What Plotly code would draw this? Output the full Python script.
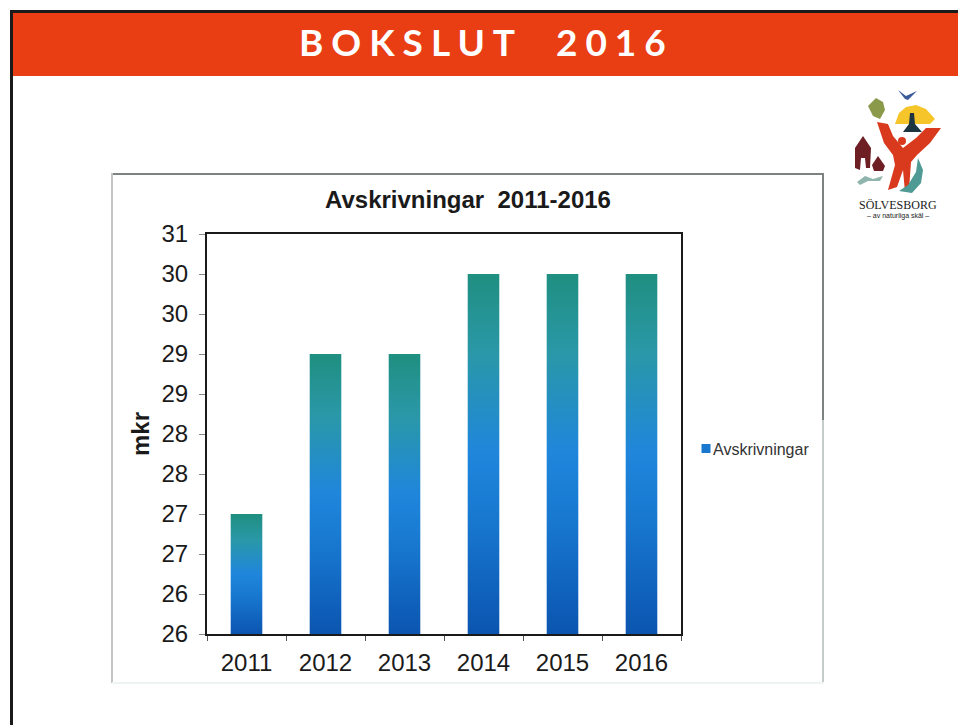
import plotly.graph_objects as go

years = ["2011", "2012", "2013", "2014", "2015", "2016"]
values = [27, 29, 29, 30, 30, 30]
series_name = "Avskrivningar"
axis_floor = 25.5
axis_top = 30.5
y_tickvals = [25.5, 26, 26.5, 27, 27.5, 28, 28.5, 29, 29.5, 30, 30.5]
y_ticktext = ["26", "26", "27", "27", "28", "28", "29", "29", "30", "30", "31"]
W, H = 958, 725
FONT = "Liberation Sans, Arial, sans-serif"


def px(x):
    return x / W


def py(y):
    return 1 - y / H


def rect(x0, y0, x1, y1, fill):
    return dict(type="rect", xref="paper", yref="paper", x0=px(x0), x1=px(x1), y0=py(y0), y1=py(y1),
                fillcolor=fill, line=dict(color=fill, width=0), layer="below")


def circle(x0, y0, x1, y1, fill):
    return dict(type="circle", xref="paper", yref="paper", x0=px(x0), x1=px(x1), y0=py(y0), y1=py(y1),
                fillcolor=fill, line=dict(width=0), layer="below")


def blob(points, fill):
    d = "M" + " L".join(f"{px(x):.5f},{py(y):.5f}" for x, y in points) + " Z"
    return dict(type="path", xref="paper", yref="paper", path=d, fillcolor=fill, line=dict(width=0), layer="below")


shapes = [
    rect(10, 10, 958, 13, "#1a1a1a"),
    rect(10, 10, 13, 725, "#1a1a1a"),
    rect(13, 13, 958, 76, "#e93e14"),
    # Chart frame, as scanned: dark at the top right, fading towards the bottom
    rect(112, 173, 824, 175, "#7d8283"),
    rect(822, 173, 824, 420, "#7d8283"),
    rect(822, 420, 824, 683, "#c4cccc"),
    rect(111, 173, 113, 683, "#c2c4c5"),
    rect(112, 682, 824, 684, "#eef3f4"),
    # Logo
    blob([(898, 90), (906, 96), (917, 91), (908, 100), (905, 99)], "#3a5a9a"),
    blob([(876, 98), (883, 102), (885, 110), (880, 119), (873, 116), (868, 106)], "#8a9a4a"),
    blob([(895, 124), (899, 113), (906, 107), (916, 105), (926, 109), (935, 119), (930, 124), (905, 124)], "#f6c52a"),
    blob([(910, 113), (914, 113), (915, 124), (922, 132), (903, 132), (909, 124)], "#1d3540"),
    blob([(877, 122), (888, 124), (893, 136), (903, 148), (916, 138), (926, 128), (941, 128), (930, 143),
          (917, 155), (911, 162), (909, 190), (905, 192), (903, 170), (897, 187), (888, 190), (895, 165),
          (893, 155), (884, 143)], "#d9391c"),
    circle(898, 137, 906, 145, "#d9391c"),
    blob([(863, 136), (871, 148), (870, 168), (866, 168), (865, 158), (861, 158), (860, 170), (855, 168), (855, 148)], "#6d1f24"),
    blob([(878, 156), (885, 166), (883, 171), (874, 171), (872, 165)], "#6d1f24"),
    blob([(918, 158), (923, 170), (921, 183), (912, 193), (899, 191), (908, 185), (916, 172)], "#4f9a94"),
    blob([(857, 182), (865, 176), (873, 179), (883, 176), (880, 181), (868, 181), (860, 185)], "#8fb5ad"),
]

fig = go.Figure(
    go.Bar(
        x=years,
        y=[v - axis_floor for v in values],
        base=axis_floor,
        name=series_name,
        marker=dict(color="#1878d0", line=dict(width=0)),
        showlegend=True,
    )
)

annotations = [
    dict(text="<b>BOKSLUT  2016</b>", xref="paper", yref="paper", x=px(486), y=py(42), showarrow=False,
         font=dict(family="Lato, Open Sans, sans-serif", size=37, color="#ffffff"), xanchor="center", yanchor="middle"),
    dict(text="<b>Avskrivningar  2011-2016</b>", xref="paper", yref="paper", x=px(468), y=py(199), showarrow=False,
         font=dict(family=FONT, size=24, color="#1a1a1a"), xanchor="center", yanchor="middle"),
    dict(text="SÖLVESBORG", xref="paper", yref="paper", x=px(898), y=py(205), showarrow=False,
         font=dict(family="Liberation Serif, serif", size=12, color="#1a1a1a"), xanchor="center", yanchor="middle"),
    dict(text="– av naturliga skäl –", xref="paper", yref="paper", x=px(898), y=py(216), showarrow=False,
         font=dict(family="Liberation Sans Narrow, Liberation Sans, sans-serif", size=7, color="#1a1a1a"), xanchor="center", yanchor="middle"),
]

fig.update_layout(
    width=W,
    height=H,
    autosize=False,
    margin=dict(l=0, r=0, t=0, b=0),
    paper_bgcolor="#ffffff",
    plot_bgcolor="#ffffff",
    font=dict(family=FONT, color="#1a1a1a"),
    bargap=0.6,
    shapes=shapes,
    annotations=annotations,
    legend=dict(x=px(686), y=py(448.5), xanchor="left", yanchor="middle", font=dict(size=16, color="#333333"),
                bgcolor="rgba(0,0,0,0)", itemwidth=30),
    xaxis=dict(
        domain=[px(207), px(681)],
        type="category",
        tickson="boundaries",
        ticks="outside",
        ticklen=5,
        tickcolor="#555555",
        tickfont=dict(size=24),
        ticklabelstandoff=6,
        showline=True,
        linecolor="#1a1a1a",
        linewidth=2,
        mirror=True,
        showgrid=False,
        automargin=False,
    ),
    yaxis=dict(
        domain=[py(634), py(234)],
        range=[axis_floor, axis_top],
        tickmode="array",
        tickvals=y_tickvals,
        ticktext=y_ticktext,
        ticks="outside",
        ticklen=6,
        tickcolor="#888888",
        tickfont=dict(size=24),
        ticklabelstandoff=6,
        showline=True,
        linecolor="#1a1a1a",
        linewidth=2,
        mirror=True,
        showgrid=False,
        zeroline=False,
        automargin=False,
        title=dict(text="<b>mkr</b>", font=dict(size=24), standoff=5),
    ),
)

post = """
document.body.style.margin = '0';
document.body.style.overflow = 'hidden';
var gd = document.querySelector('.plotly-graph-div');
var svg = gd.querySelector('svg.main-svg');
var NS = 'http://www.w3.org/2000/svg';
var defs = svg.querySelector('defs') || svg.insertBefore(document.createElementNS(NS, 'defs'), svg.firstChild);
var g = document.createElementNS(NS, 'linearGradient');
g.setAttribute('id', 'barGrad');
g.setAttribute('x1', '0'); g.setAttribute('y1', '0'); g.setAttribute('x2', '0'); g.setAttribute('y2', '1');
[[0, '#1f8f80'], [0.22, '#2a98a8'], [0.5, '#1f86dc'], [0.68, '#1878d0'], [1, '#0b55b0']].forEach(function (s) {
  var st = document.createElementNS(NS, 'stop');
  st.setAttribute('offset', s[0]); st.setAttribute('stop-color', s[1]);
  g.appendChild(st);
});
defs.appendChild(g);
gd.querySelectorAll('.bars .point path').forEach(function (p) { p.style.fill = 'url(#barGrad)'; });
gd.querySelectorAll('.legendpoints path').forEach(function (p) {
  p.setAttribute('d', 'M4.5,4.5H-4.5V-4.5H4.5Z');
  p.style.strokeWidth = '0';
});
gd.querySelectorAll('.legendtext').forEach(function (t) {
  t.setAttribute('x', '27');
});
gd.querySelectorAll('.annotation-text').forEach(function (t) {
  if (t.textContent.indexOf('BOKSLUT') === 0) {
    t.style.letterSpacing = '8px';
    t.style.whiteSpace = 'pre';
  }
});
"""

fig.write_html("out.html", post_script=post, config=dict(displayModeBar=False))
